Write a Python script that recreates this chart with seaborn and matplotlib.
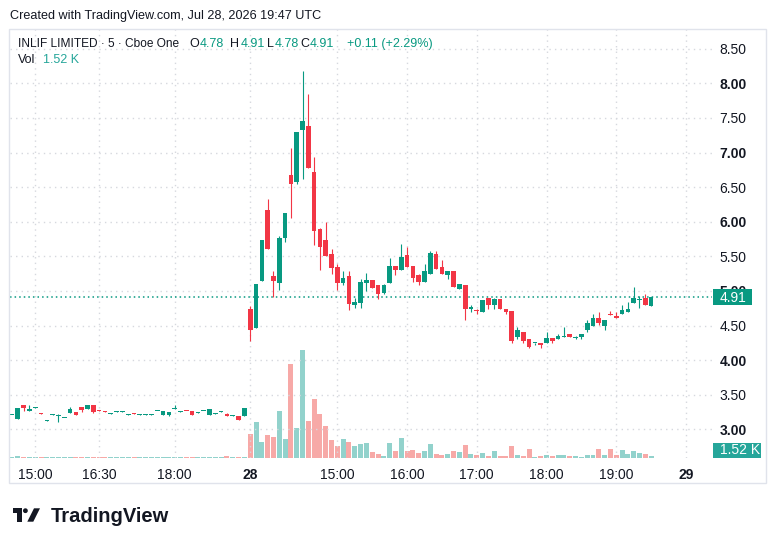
import numpy as np
import pandas as pd
import matplotlib.pyplot as plt
import matplotlib.patches as mpatches
import seaborn as sns

W, H = 776, 546

# 5-minute bars (bar index = position on the time axis)
opens = [3.20, 3.15, 3.35, 3.27, 3.31, 3.23, 3.12, 3.21, 3.19, 3.16,
         3.24, 3.25, 3.32, 3.30, 3.35, 3.28, 3.26, 3.22, 3.25, 3.25,
         3.21, 3.23, 3.21, 3.21, 3.21, 3.26, 3.21, 3.21, 3.29, 3.25,
         3.27, 3.26, 3.24, 3.26, 3.20, 3.22, 3.25, 3.22, 3.19, 3.19,
         3.19, 4.74, 4.47, 5.15, 6.17, 5.22, 5.12, 5.77, 6.68, 6.57,
         7.33, 7.39, 6.72, 5.90, 5.73, 5.54, 5.34, 5.11, 5.21, 4.79,
         4.83, 5.11, 5.16, 5.08, 4.97, 5.12, 5.36, 5.30, 5.52, 5.36,
         5.23, 5.13, 5.25, 5.54, 5.34, 5.23, 5.29, 5.03, 5.08, 4.74,
         4.72, 4.69, 4.90, 4.79, 4.89, 4.74, 4.71, 4.34, 4.41, 4.31,
         4.24, 4.25, 4.24, 4.32, 4.30, 4.33, 4.37, 4.32, 4.34, 4.44,
         4.50, 4.61, 4.50, 4.66, 4.64, 4.66, 4.70, 4.82, 4.87, 4.90,
         4.78]
highs = [3.21, 3.31, 3.35, 3.35, 3.32, 3.23, 3.13, 3.22, 3.22, 3.17,
         3.32, 3.25, 3.32, 3.35, 3.35, 3.28, 3.26, 3.23, 3.26, 3.26,
         3.22, 3.23, 3.22, 3.22, 3.22, 3.27, 3.26, 3.25, 3.35, 3.26,
         3.27, 3.26, 3.25, 3.27, 3.29, 3.23, 3.26, 3.24, 3.20, 3.19,
         3.31, 4.78, 5.10, 5.73, 6.33, 5.29, 5.80, 6.12, 7.07, 7.29,
         8.18, 7.85, 6.93, 5.91, 5.99, 5.60, 5.39, 5.29, 5.29, 4.90,
         5.17, 5.26, 5.16, 5.08, 5.10, 5.47, 5.36, 5.68, 5.64, 5.36,
         5.25, 5.39, 5.58, 5.57, 5.45, 5.29, 5.29, 5.10, 5.08, 4.80,
         4.74, 4.87, 4.90, 4.90, 4.89, 4.74, 4.71, 4.48, 4.41, 4.31,
         4.25, 4.25, 4.40, 4.32, 4.38, 4.48, 4.37, 4.35, 4.38, 4.58,
         4.66, 4.69, 4.58, 4.71, 4.70, 4.80, 4.84, 5.05, 4.93, 4.95,
         4.91]
lows = [3.20, 3.15, 3.27, 3.27, 3.31, 3.22, 3.12, 3.21, 3.10, 3.16,
        3.24, 3.20, 3.25, 3.30, 3.23, 3.27, 3.25, 3.22, 3.25, 3.25,
        3.21, 3.22, 3.21, 3.21, 3.21, 3.26, 3.21, 3.19, 3.29, 3.25,
        3.26, 3.21, 3.24, 3.26, 3.20, 3.22, 3.25, 3.19, 3.19, 3.13,
        3.19, 4.27, 4.47, 5.15, 5.60, 4.91, 5.02, 5.70, 6.05, 6.54,
        6.62, 6.78, 5.66, 5.30, 5.50, 5.24, 5.02, 5.08, 4.72, 4.75,
        4.75, 5.00, 5.04, 4.89, 4.96, 5.12, 5.23, 5.30, 5.35, 5.13,
        5.09, 5.13, 5.25, 5.32, 5.25, 5.17, 5.05, 5.03, 4.58, 4.69,
        4.66, 4.69, 4.74, 4.74, 4.74, 4.67, 4.25, 4.31, 4.25, 4.18,
        4.22, 4.18, 4.24, 4.24, 4.30, 4.33, 4.34, 4.30, 4.30, 4.40,
        4.50, 4.51, 4.43, 4.65, 4.61, 4.66, 4.70, 4.82, 4.76, 4.79,
        4.78]
closes = [3.21, 3.31, 3.31, 3.29, 3.32, 3.22, 3.13, 3.22, 3.20, 3.17,
          3.29, 3.20, 3.28, 3.35, 3.25, 3.27, 3.25, 3.23, 3.26, 3.26,
          3.22, 3.22, 3.22, 3.22, 3.22, 3.27, 3.26, 3.25, 3.30, 3.26,
          3.26, 3.21, 3.25, 3.27, 3.29, 3.23, 3.26, 3.19, 3.20, 3.13,
          3.31, 4.44, 5.10, 5.73, 5.60, 5.15, 5.77, 6.12, 6.55, 7.29,
          7.45, 6.78, 5.87, 5.64, 5.50, 5.33, 5.12, 5.19, 4.81, 4.84,
          5.13, 5.16, 5.04, 4.95, 5.09, 5.36, 5.30, 5.49, 5.35, 5.19,
          5.13, 5.29, 5.55, 5.32, 5.25, 5.29, 5.06, 5.10, 4.74, 4.77,
          4.71, 4.87, 4.79, 4.89, 4.74, 4.70, 4.28, 4.43, 4.28, 4.19,
          4.25, 4.22, 4.32, 4.28, 4.35, 4.35, 4.34, 4.33, 4.38, 4.53,
          4.61, 4.53, 4.58, 4.65, 4.61, 4.73, 4.74, 4.90, 4.88, 4.79,
          4.91]
# volume in thousands of shares
volumes = [0.4, 1.5, 0.4, 0.4, 0.4, 0.4, 0.4, 0.4, 0.4, 0.4,
           0.4, 0.4, 0.4, 0.4, 0.4, 0.4, 0.4, 0.4, 0.4, 0.4,
           0.4, 0.4, 0.4, 0.4, 0.4, 0.4, 0.4, 0.4, 0.4, 0.4,
           0.4, 0.4, 0.4, 0.4, 0.4, 0.4, 0.4, 1.2, 0.4, 0.4,
           0.8, 18.0, 27.1, 11.9, 17.3, 15.7, 35.5, 14.2, 71.2, 22.6,
           81.9, 27.9, 44.6, 33.2, 24.1, 13.5, 8.9, 14.2, 11.9, 8.9,
           10.4, 11.2, 4.3, 2.8, 1.3, 11.2, 5.1, 15.0, 5.1, 5.9,
           3.6, 5.1, 10.4, 2.8, 2.1, 2.8, 5.1, 4.4, 9.8, 2.9,
           2.3, 3.8, 1.5, 5.3, 1.5, 1.5, 9.1, 2.3, 1.5, 6.8,
           0.8, 1.5, 2.3, 1.5, 2.3, 2.3, 1.5, 1.5, 0.8, 2.3,
           2.3, 6.8, 2.3, 6.8, 2.3, 6.1, 3.0, 5.3, 3.8, 3.0,
           1.52]

tick_pos = [4, 15, 28, 41, 56, 68, 80, 92, 104, 116]
tick_labels = ["15:00", "16:30", "18:00", "28", "15:00", "16:00", "17:00", "18:00", "19:00", "29"]
price_ticks = [3.0, 3.5, 4.0, 4.5, 5.0, 5.5, 6.0, 6.5, 7.0, 7.5, 8.0, 8.5]

UP = "#089981"
DOWN = "#F23645"
VOL_UP = "#92D2CC"
VOL_DOWN = "#F7A9A7"
TEXT = "#131722"
GRID = "#D6D8DE"


def price_at(py):
    # pixel row -> price, from the gridlines of the screenshot
    return 8.5 - (py - 48.7) / 69.2


def idx_at(px):
    return (px - 12) / 5.81


sns.set_theme(style="white")
plt.rcParams["font.family"] = ["Liberation Sans", "DejaVu Sans"]

df = pd.DataFrame({"open": opens, "high": highs, "low": lows, "close": closes, "volume": volumes})
df["idx"] = np.arange(len(df))
df["dir"] = np.where(df["close"] >= df["open"], "up", "down")

fig = plt.figure(figsize=(W / 100, H / 100), dpi=100)
fig.patch.set_facecolor("white")

pane_l, pane_r, pane_t, pane_b = 10, 712, 29, 458
ax = fig.add_axes([pane_l / W, 1 - pane_b / H, (pane_r - pane_l) / W, (pane_b - pane_t) / H])
ax2 = ax.twinx()

# volume overlay in the bottom of the pane
sns.barplot(data=df, x="idx", y="volume", hue="dir",
            palette={"up": VOL_UP, "down": VOL_DOWN},
            native_scale=True, dodge=False, width=0.86, saturation=1,
            errorbar=None, legend=False, linewidth=0, ax=ax2)
ax2.set_ylim(0, 325)
ax2.set_yticks([])
ax2.set_ylabel("")
ax2.set_xlabel("")
for s in ax2.spines.values():
    s.set_visible(False)

ax.set_zorder(ax2.get_zorder() + 1)
ax.patch.set_visible(False)

# candles
colors = np.where(df["dir"] == "up", UP, DOWN)
ax.vlines(df["idx"], df["low"], df["high"], colors=colors, lw=0.8, zorder=3)
body_lo = np.minimum(df["open"], df["close"])
body_h = np.maximum((df["close"] - df["open"]).abs(), 0.015)
ax.bar(df["idx"], body_h, bottom=body_lo, width=0.8, color=colors, lw=0, zorder=4)

# last price line
ax.axhline(closes[-1], color=UP, lw=1.1, ls=(0, (1, 2)), zorder=2)

ax.set_xlim(idx_at(pane_l), idx_at(pane_r))
ax.set_ylim(price_at(pane_b), price_at(pane_t))
ax.set_xticks(tick_pos)
ax.set_xticklabels(tick_labels)
ax.set_yticks(price_ticks)
ax.set_yticklabels([f"{v:.2f}" for v in price_ticks])
ax.yaxis.tick_right()
ax.grid(True, color=GRID, ls=(0, (1, 3)), lw=1)
ax.tick_params(axis="both", length=0, labelsize=10, colors=TEXT)
ax.tick_params(axis="y", pad=5.5)
ax.tick_params(axis="x", pad=7)
for lab in ax.get_yticklabels():
    if lab.get_text().endswith(".00"):
        lab.set_fontweight("bold")
for lab in ax.get_xticklabels():
    if ":" not in lab.get_text():
        lab.set_fontweight("bold")
ax.set_xlabel("")
ax.set_ylabel("")
for s in ax.spines.values():
    s.set_visible(False)

# overlay in pixel coordinates for header, price tags, frame and logo
ov = fig.add_axes([0, 0, 1, 1], zorder=10)
ov.set_xlim(0, W)
ov.set_ylim(H, 0)
ov.axis("off")
ov.patch.set_visible(False)

ov.add_patch(mpatches.Rectangle((9, 28.5), 757, 454.5, fill=False, ec="#E0E3EB", lw=1))

ov.text(10, 19.3, "Created with TradingView.com, Jul 28, 2026 19:47 UTC", fontsize=9.1, color=TEXT)
ov.text(18.3, 47.3, "INLIF LIMITED · 5 · Cboe One", fontsize=8.6, color=TEXT)
for x, s, c in [(189, "O", TEXT), (200, "4.78", UP), (230, "H", TEXT), (240.7, "4.91", UP),
                (266.7, "L", TEXT), (274.7, "4.78", UP), (300, "C", TEXT), (310, "4.91", UP),
                (346.7, "+0.11 (+2.29%)", UP)]:
    ov.text(x, 47.3, s, fontsize=9, color=c)
ov.text(18.3, 63.3, "Vol", fontsize=9, color=TEXT)
ov.text(43.3, 63.3, "1.52 K", fontsize=9, color="#26A69A")

# price axis tags
ov.add_patch(mpatches.Rectangle((712.7, 289.3), 39, 16, fc=UP, ec="none"))
ov.text(720, 297.5, "4.91", fontsize=10, color="white", va="center")
ov.add_patch(mpatches.Rectangle((712.7, 442.7), 48, 15, fc="#26A69A", ec="none"))
ov.text(720, 450.5, "1.52 K", fontsize=10, color="white", va="center")

# TradingView logo
ov.add_patch(mpatches.Polygon([(12.7, 508.3), (22, 508.3), (22, 521.7), (17.3, 521.7),
                               (17.3, 513), (12.7, 513)], closed=True, fc="#131722", ec="none"))
ov.add_patch(mpatches.Circle((25.4, 510.7), 2.4, fc="#131722", ec="none"))
ov.add_patch(mpatches.Polygon([(27.3, 521.7), (33.3, 521.7), (40, 508.3), (34, 508.3)],
                              closed=True, fc="#131722", ec="none"))
ov.text(50.7, 521.7, "TradingView", fontsize=14.5, fontweight="bold", color="#131722")

fig.savefig("out.png", dpi=100)
